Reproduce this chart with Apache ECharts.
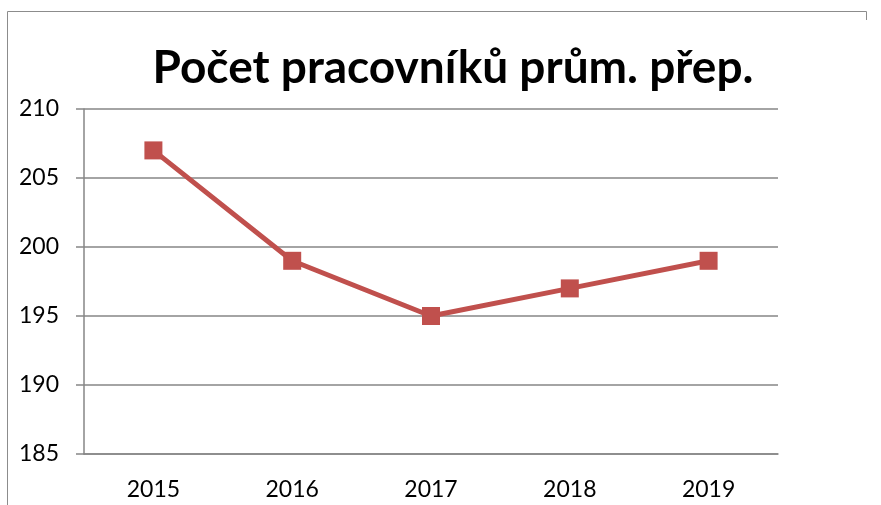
<!DOCTYPE html>
<html>
<head>
<meta charset="utf-8">
<script src="https://cdn.jsdelivr.net/npm/echarts@6/dist/echarts.min.js"></script>
<style>
  html, body { margin: 0; padding: 0; background: #fff; }
  #chart { width: 881px; height: 505px; }
</style>
</head>
<body>
<div id="chart"></div>
<script>
// data
var years = ['2015', '2016', '2017', '2018', '2019']
var workers = [207, 199, 195, 197, 199]
var yTicks = { min: 185, max: 210, step: 5 }

var chart = echarts.init(document.getElementById('chart'))
chart.setOption({
  animation: false,
  textStyle: { fontFamily: 'Lato' },
  title: {
    text: 'Počet pracovníků prům. přep.',
    left: 448,
    top: 40,
    textAlign: 'center',
    textStyle: { fontFamily: 'Lato', fontWeight: 'bold', fontSize: 46, color: '#000' }
  },
  graphic: [{
    type: 'polyline',
    shape: { points: [[7.5, 520], [7.5, 11.5], [866.5, 11.5], [866.5, 20]] },
    style: { stroke: '#8c8c8c', lineWidth: 1, fill: null }
  }],
  grid: { left: 84, right: 103, top: 109, bottom: 51 },
  xAxis: {
    type: 'category',
    data: years,
    boundaryGap: true,
    axisLine: { lineStyle: { color: '#868686', width: 1.5 } },
    axisTick: { length: 7, lineStyle: { color: '#868686', width: 1.5 } },
    axisLabel: { color: '#000', fontSize: 23, margin: 24, fontFamily: 'Lato' }
  },
  yAxis: {
    type: 'value',
    min: yTicks.min,
    max: yTicks.max,
    interval: yTicks.step,
    axisLine: { show: true, lineStyle: { color: '#868686', width: 1.5 } },
    axisTick: { show: true, length: 8, lineStyle: { color: '#868686', width: 1.5 } },
    splitLine: { lineStyle: { color: '#868686', width: 1.5 } },
    axisLabel: { color: '#000', fontSize: 23, margin: 25, fontFamily: 'Lato' }
  },
  series: [{
    type: 'line',
    data: workers,
    symbol: 'rect',
    symbolSize: 18,
    lineStyle: { color: '#C0504D', width: 5 },
    itemStyle: { color: '#C0504D' }
  }]
})
</script>
</body>
</html>
